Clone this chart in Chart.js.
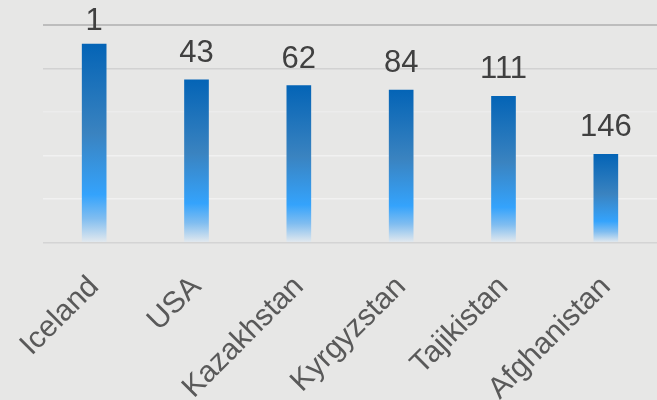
<!DOCTYPE html>
<html>
<head>
<meta charset="utf-8">
<script src="https://cdn.jsdelivr.net/npm/chart.js@4"></script>
<style>
  html, body { margin: 0; padding: 0; background: #e7e7e6; }
  #wrap { width: 657px; height: 400px; }
</style>
</head>
<body>
<div id="wrap"><canvas id="c" width="657" height="400"></canvas></div>
<script>
const categories = ['Iceland', 'USA', 'Kazakhstan', 'Kyrgyzstan', 'Tajikistan', 'Afghanistan'];
const scores = [0.912, 0.748, 0.721, 0.700, 0.672, 0.405];
const ranks = ['1', '43', '62', '84', '111', '146'];
const yTicks = [0, 0.2, 0.4, 0.6, 0.8, 1.0];
const gridColors = ['#d4d4d4', '#f1f1f1', '#f1f1f1', '#ececec', '#d2d2d2', '#bdbdbd'];
const FONT = '"Liberation Sans", Arial, sans-serif';

const bgPlugin = {
  id: 'bg',
  beforeDraw(chart) {
    const c = chart.ctx;
    c.save();
    c.fillStyle = '#e7e7e6';
    c.fillRect(0, 0, chart.width, chart.height);
    c.restore();
  }
};

const labelPlugin = {
  id: 'rankLabels',
  afterDatasetsDraw(chart) {
    const c = chart.ctx;
    const meta = chart.getDatasetMeta(0);
    c.save();
    c.font = '31px ' + FONT;
    c.fillStyle = '#404040';
    c.textAlign = 'center';
    c.textBaseline = 'alphabetic';
    meta.data.forEach((el, i) => {
      const y = Math.max(el.y - 18, 30);
      c.fillText(ranks[i], el.x, y);
    });
    c.restore();
  }
};

new Chart(document.getElementById('c'), {
  type: 'bar',
  data: {
    labels: categories,
    datasets: [{
      data: scores,
      barThickness: 24,
      borderWidth: 0,
      backgroundColor: (ctx) => {
        const chart = ctx.chart;
        if (!chart.chartArea || ctx.type !== 'data') return '#1f78c8';
        const ys = chart.scales.y;
        const top = ys.getPixelForValue(ctx.raw);
        const bottom = ys.getPixelForValue(0);
        const g = chart.ctx.createLinearGradient(0, top, 0, bottom);
        g.addColorStop(0, '#0464b6');
        g.addColorStop(0.45, '#3a83c0');
        g.addColorStop(0.76, '#34a3fc');
        g.addColorStop(0.88, '#80bdf0');
        g.addColorStop(1, '#e3e9ee');
        return g;
      }
    }]
  },
  options: {
    responsive: false,
    animation: false,
    devicePixelRatio: 1,
    layout: { padding: { top: 25, right: 0, left: 0, bottom: 0 } },
    plugins: { legend: { display: false }, tooltip: { enabled: false } },
    scales: {
      x: {
        grid: { display: false },
        border: { display: false },
        ticks: {
          color: '#595959',
          font: { family: FONT, size: 30 },
          maxRotation: 45,
          minRotation: 45,
          padding: 19,
          autoSkip: false
        },
        afterFit(scale) { scale.height = 157.7; }
      },
      y: {
        min: 0,
        max: 1,
        afterBuildTicks(scale) { scale.ticks = yTicks.map(v => ({ value: v })); },
        ticks: { display: false },
        border: { display: false },
        grid: {
          drawTicks: false,
          color: (ctx) => gridColors[ctx.index] || '#d4d4d4',
          lineWidth: (ctx) => ctx.index === yTicks.length - 1 ? 2 : 1.5
        },
        afterFit(scale) { scale.width = 43; }
      }
    }
  },
  plugins: [bgPlugin, labelPlugin]
});
</script>
</body>
</html>
